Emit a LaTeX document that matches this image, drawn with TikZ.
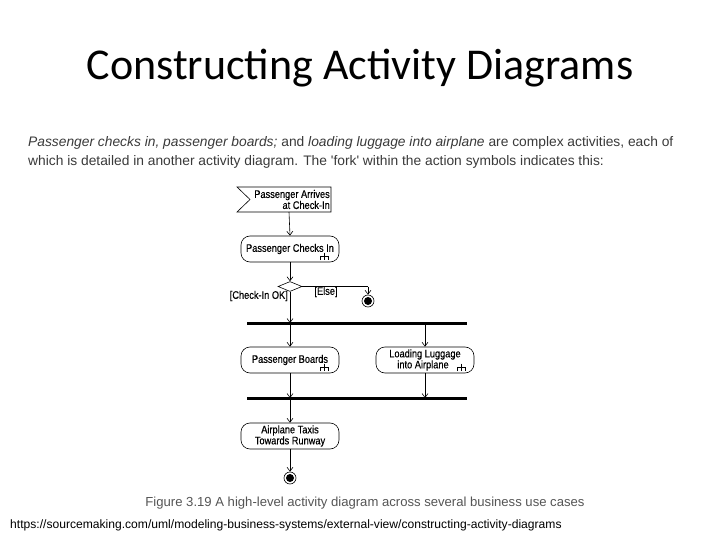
\documentclass[tikz,border=0pt]{standalone}
\usepackage{fontspec}
\setmainfont{Liberation Sans}
\newfontfamily\titlefont{Carlito}
\newfontfamily\diagfont[FakeStretch=0.84,FakeBold=0.3]{Liberation Sans}
\usetikzlibrary{arrows.meta,shapes.geometric,calc}
\definecolor{txtgray}{HTML}{3A3A3A}
\definecolor{capgray}{HTML}{555555}
\tikzset{
  action/.style={draw, rounded corners=9pt, line width=0.6pt, minimum width=98pt, minimum height=26pt, inner sep=1pt, font=\diagfont\fontsize{11}{11}\selectfont, align=center},
  flow/.style={line width=0.6pt, -{Straight Barb[length=4pt,width=6pt]}},
  bar/.style={line width=3pt},
  guard/.style={font=\diagfont\fontsize{11}{11}\selectfont},
  finalnode/.style={circle, draw, line width=0.6pt, minimum size=12pt, inner sep=0pt, path picture={\fill (path picture bounding box.center) circle (4pt);}},
}
\newcommand{\rakeicon}[1]{%
  \draw[line width=0.5pt] ($(#1)+(0,-4)$) -- ($(#1)+(0,3.5)$);
  \draw[line width=0.5pt] ($(#1)+(-4,3.5)$) -- ($(#1)+(-4,0)$) -- ($(#1)+(4,0)$) -- ($(#1)+(4,3.5)$);
}
\begin{document}
\begin{tikzpicture}[x=1pt,y=-1pt]
\useasboundingbox (0,0) rectangle (720,540);
\fill[white] (0,0) rectangle (720,540);
% title
\node[font=\titlefont\fontsize{44}{48}\selectfont] (title) at (360,68) {Constructing Activity Diagrams};
% description
\node[anchor=base west, text=txtgray, font=\fontsize{13.8}{16}\selectfont, inner sep=0pt] (desc1) at (28,147)
  {\textit{Passenger checks in, passenger boards;} and \textit{loading luggage into airplane} are complex activities, each of};
\node[anchor=base west, text=txtgray, font=\fontsize{13.8}{16}\selectfont, inner sep=0pt] (desc2) at (28,166)
  {which is detailed in another activity diagram. The \textquotesingle fork\textquotesingle\ within the action symbols indicates this:};
% signal receipt
\draw[line width=0.6pt] (237,187) -- (331,187) -- (331,212) -- (237,212) -- (250,199.5) -- cycle;
\node[font=\diagfont\fontsize{11}{11}\selectfont, align=right, anchor=east, inner sep=1pt] (arrive) at (331,199.5) {Passenger Arrives\\at Check-In};
\coordinate (arrbot) at (289,212);
% actions
\node[action] (checks) at (290,249) {Passenger Checks In};
\node[diamond, draw, line width=0.6pt, minimum width=24pt, minimum height=10pt, inner sep=0pt] (dec) at (290,286.5) {};
\node[finalnode] (final1) at (368,301) {};
\coordinate (elsecorner) at (368,286.5);
\coordinate (fork1l) at (247,323);
\coordinate (fork1r) at (467,323);
\draw[bar] (fork1l) -- (fork1r);
\node[action] (boards) at (290,360) {Passenger Boards};
\node[action, align=right] (luggage) at (425,360) {Loading Luggage\\into Airplane\hspace*{12pt}};
\coordinate (fork2l) at (247,398);
\coordinate (fork2r) at (467,398);
\draw[bar] (fork2l) -- (fork2r);
\node[action] (taxi) at (290,436) {Airplane Taxis\\Towards Runway};
\node[finalnode] (final2) at (290,478) {};
% rake icons
\rakeicon{324,256.5}
\rakeicon{324,367.5}
\rakeicon{461,367.5}
% connectors
\draw[flow] (arrbot) -- (checks.north);
\draw[flow] (checks.south) -- (dec.north);
\draw[line width=0.6pt] (dec.east) -- (elsecorner);
\draw[flow] (elsecorner) -- (final1.north);
\coordinate (f1a) at (290,323);
\coordinate (f1b) at (425,323);
\coordinate (f2a) at (290,398);
\coordinate (f2b) at (425,398);
\draw[flow] (dec.south) -- (f1a);
\draw[flow] (f1a) -- (boards.north);
\draw[flow] (f1b) -- (luggage.north);
\draw[flow] (boards.south) -- (f2a);
\draw[flow] (luggage.south) -- (f2b);
\draw[flow] (f2a) -- (taxi.north);
\draw[flow] (taxi.south) -- (final2.north);
% guards
\node[guard, anchor=east, inner sep=1pt] (okg) at (289,296) {[Check-In OK]};
\node[guard] (elseg) at (326,292) {[Else]};
% caption
\node[text=capgray, font=\fontsize{13.1}{15}\selectfont] (cap) at (365,503) {Figure 3.19 A high-level activity diagram across several business use cases};
\node[anchor=west, font=\fontsize{12.1}{14}\selectfont, inner sep=0pt] (url) at (10,525) {https://sourcemaking.com/uml/modeling-business-systems/external-view/constructing-activity-diagrams};
\end{tikzpicture}
\end{document}
